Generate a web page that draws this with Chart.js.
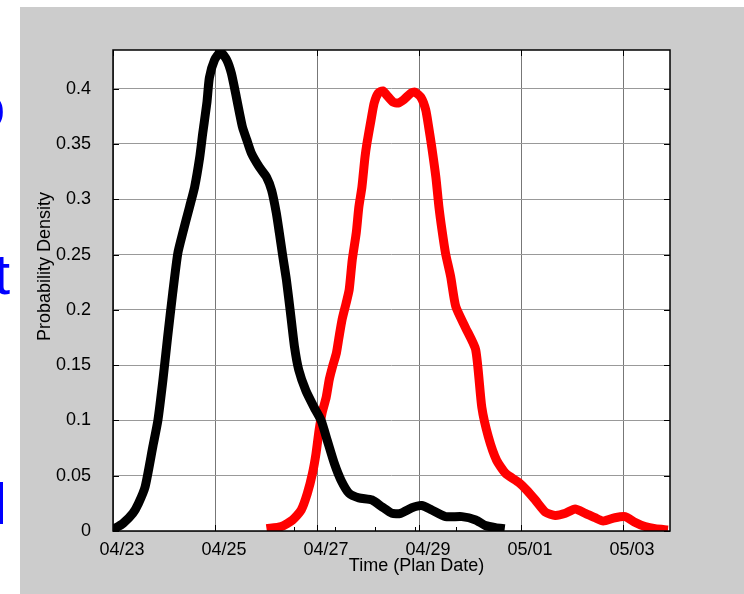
<!DOCTYPE html>
<html>
<head>
<meta charset="utf-8">
<script src="https://cdn.jsdelivr.net/npm/chart.js@4.4.1/dist/chart.umd.min.js"></script>
<style>
  html, body { margin: 0; padding: 0; background: #fff; }
  body { width: 744px; height: 594px; position: relative; overflow: hidden; font-family: 'Liberation Sans', Arial, sans-serif; }
  .slide-text { position: absolute; color: #0000ff; font-size: 58px; line-height: 58px; white-space: nowrap; }
  #panel { position: absolute; left: 20px; top: 7px; width: 724px; height: 587px; background: #cccccc; }
</style>
</head>
<body>
<!-- clipped slide text peeking out on the left -->
<div class="slide-text" style="left:-27px; top:78px;">o</div>
<div class="slide-text" style="left:-6px; top:245px;">t</div>
<div class="slide-text" style="left:-6px; top:475px;">l</div>

<div id="panel"><canvas id="densityChart"></canvas></div>

<script>
// ── Data (x in days after 04/23) ──
const dateLabels = ['04/23', '04/25', '04/27', '04/29', '05/01', '05/03'];
const dayTicks = [0, 2, 4, 6, 8, 10];
const minorTicks = [3.55, 4.36, 5.14, 5.92, 6.72, 7.52];

const blackDays = [0, 0.06, 0.2, 0.39, 0.5, 0.63, 0.78, 0.88, 0.98, 1.07, 1.17, 1.27, 1.37, 1.5, 1.6, 1.7, 1.76, 1.84, 1.89, 1.99,
  2.11, 2.23, 2.32, 2.42, 2.48, 2.54, 2.62, 2.71, 2.87, 3.01, 3.11, 3.2, 3.26, 3.32, 3.4, 3.48, 3.56, 3.64, 3.78, 3.94,
  4.08, 4.2, 4.34, 4.47, 4.63, 4.82, 5.08, 5.27, 5.47, 5.64, 5.86, 6.05, 6.25, 6.52, 6.84, 7.11, 7.3, 7.5, 7.68];
const blackDensity = [0.002, 0.003, 0.007, 0.016, 0.025, 0.04, 0.076, 0.1, 0.137, 0.175, 0.215, 0.251, 0.27, 0.293, 0.311, 0.338, 0.36, 0.387, 0.41, 0.426,
  0.433, 0.426, 0.414, 0.392, 0.378, 0.365, 0.354, 0.342, 0.329, 0.32, 0.308, 0.288, 0.27, 0.251, 0.227, 0.197, 0.166, 0.146, 0.127, 0.112,
  0.1, 0.082, 0.061, 0.046, 0.034, 0.03, 0.028, 0.022, 0.016, 0.016, 0.021, 0.023, 0.019, 0.013, 0.013, 0.01, 0.005, 0.003, 0.002];

const redDays = [3.01, 3.3, 3.52, 3.69, 3.81, 3.91, 3.98, 4.04, 4.1, 4.18, 4.24, 4.3, 4.38, 4.43, 4.49, 4.57, 4.63, 4.69, 4.77, 4.82,
  4.88, 4.94, 4.98, 5.06, 5.12, 5.2, 5.29, 5.37, 5.49, 5.59, 5.7, 5.84, 5.92, 6.04, 6.13, 6.19, 6.25, 6.33, 6.39, 6.45,
  6.52, 6.62, 6.72, 6.91, 7.11, 7.23, 7.36, 7.52, 7.7, 7.95, 8.11, 8.28, 8.48, 8.67, 8.87, 9.06, 9.26, 9.45, 9.61, 9.84,
  10.04, 10.23, 10.43, 10.63, 10.88];
const redDensity = [0.002, 0.004, 0.01, 0.019, 0.034, 0.052, 0.07, 0.091, 0.107, 0.121, 0.137, 0.148, 0.161, 0.175, 0.191, 0.206, 0.218, 0.245, 0.27, 0.293,
  0.311, 0.338, 0.351, 0.372, 0.387, 0.396, 0.398, 0.394, 0.388, 0.387, 0.39, 0.396, 0.397, 0.392, 0.381, 0.365, 0.347, 0.32, 0.293, 0.272,
  0.251, 0.23, 0.203, 0.184, 0.164, 0.112, 0.085, 0.064, 0.052, 0.044, 0.037, 0.028, 0.017, 0.014, 0.016, 0.02, 0.016, 0.012, 0.009, 0.012,
  0.013, 0.008, 0.004, 0.002, 0.001];

const FONT = "'Liberation Sans', Arial, sans-serif";
const toPoints = (xs, ys) => xs.map((x, i) => ({ x: x, y: ys[i] }));

// ── Plot frame: white area, inside ticks, box, axis titles ──
const framePlugin = {
  id: 'frame',
  beforeDraw(chart) {
    const { ctx, chartArea: a } = chart;
    ctx.save();
    ctx.fillStyle = '#fff';
    ctx.fillRect(a.left, a.top, a.right - a.left, a.bottom - a.top);
    ctx.restore();
  },
  afterDatasetsDraw(chart) {
    const { ctx, chartArea: a, scales } = chart;
    ctx.save();
    ctx.strokeStyle = '#000';
    ctx.lineWidth = 1;
    ctx.beginPath();
    scales.y.ticks.forEach(t => {
      const py = Math.round(scales.y.getPixelForValue(t.value)) + 0.5;
      ctx.moveTo(a.left, py); ctx.lineTo(a.left + 6, py);
      ctx.moveTo(a.right, py); ctx.lineTo(a.right - 6, py);
    });
    scales.x.ticks.forEach(t => {
      const px = Math.round(scales.x.getPixelForValue(t.value)) + 0.5;
      ctx.moveTo(px, a.top); ctx.lineTo(px, a.top + 6);
      ctx.moveTo(px, a.bottom); ctx.lineTo(px, a.bottom - 6);
    });
    minorTicks.forEach(v => {
      const px = Math.round(scales.x.getPixelForValue(v)) + 0.5;
      ctx.moveTo(px, a.bottom); ctx.lineTo(px, a.bottom - 4);
    });
    ctx.stroke();
    ctx.lineWidth = 1.5;
    ctx.strokeRect(a.left, a.top, a.right - a.left, a.bottom - a.top);
    ctx.restore();
  },
  afterDraw(chart) {
    const { ctx, chartArea: a } = chart;
    ctx.save();
    ctx.fillStyle = '#000';
    ctx.font = '18px ' + FONT;
    ctx.textAlign = 'center';
    ctx.textBaseline = 'middle';
    ctx.fillText('Time (Plan Date)', (a.left + a.right) / 2 + 25, a.bottom + 35);
    ctx.translate(a.left - 68, (a.top + a.bottom) / 2 - 24);
    ctx.rotate(-Math.PI / 2);
    ctx.fillText('Probability Density', 0, 0);
    ctx.restore();
  }
};

new Chart(document.getElementById('densityChart'), {
  type: 'line',
  data: {
    datasets: [
      {
        label: 'black',
        data: toPoints(blackDays, blackDensity),
        borderColor: '#000000',
        borderWidth: 9,
        pointRadius: 0,
        tension: 0.2,
        borderJoinStyle: 'round',
        fill: false
      },
      {
        label: 'red',
        data: toPoints(redDays, redDensity),
        borderColor: '#ff0000',
        borderWidth: 9,
        pointRadius: 0,
        tension: 0.2,
        borderJoinStyle: 'round',
        fill: false
      }
    ]
  },
  options: {
    responsive: true,
    maintainAspectRatio: false,
    animation: false,
    layout: { padding: { left: 0, top: 43, right: 74, bottom: 0 } },
    plugins: { legend: { display: false }, tooltip: { enabled: false } },
    scales: {
      x: {
        type: 'linear',
        min: 0,
        max: 10.92,
        afterBuildTicks: axis => { axis.ticks = dayTicks.map(v => ({ value: v })); },
        afterFit: s => { s.height = 63; },
        grid: { color: '#777', lineWidth: 1, drawTicks: false },
        border: { display: false },
        ticks: {
          color: '#000',
          font: { family: FONT, size: 18 },
          padding: 8,
          labelOffset: 9,
          maxRotation: 0,
          autoSkip: false,
          callback: (v, i) => dateLabels[i]
        }
      },
      y: {
        min: 0,
        max: 0.435,
        afterFit: s => { s.width = 93; },
        grid: { color: '#999', lineWidth: 1, drawTicks: false },
        border: { display: false },
        ticks: {
          stepSize: 0.05,
          includeBounds: false,
          color: '#000',
          font: { family: FONT, size: 18 },
          padding: 22,
          callback: v => String(+v.toFixed(2))
        }
      }
    }
  },
  plugins: [framePlugin]
});
</script>
</body>
</html>
